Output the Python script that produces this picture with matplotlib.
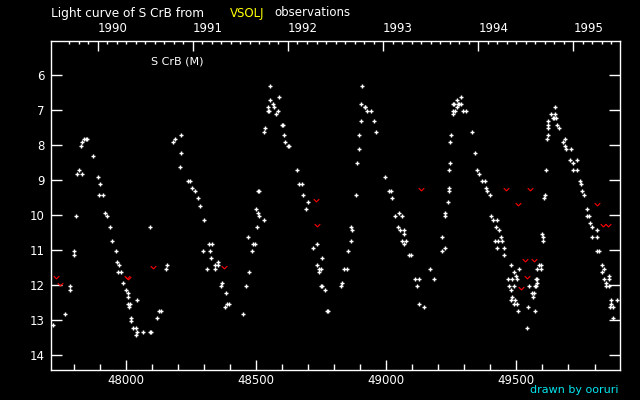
import matplotlib
matplotlib.use("Agg")
import matplotlib.pyplot as plt
from matplotlib.path import Path
import numpy as np

# ---- data: visual estimates (JD-2400000, magnitude) ----
jd_vis = [
    47720, 47766, 47785, 47785, 47800, 47800, 47808, 47812, 47819, 47834, 47827, 47831, 47838, 47846, 47853,
    47876, 47892, 47903, 47899, 47911, 47922, 47930, 47941, 47949, 47964, 47968, 47976, 47972, 47983, 47991,
    48002, 48010, 48010, 48010, 48018, 48014, 48044, 48021, 48021, 48029, 48041, 48044, 48041, 48067, 48094,
    48098, 48122, 48129, 48137, 48095, 48156, 48160, 48183, 48190, 48213, 48213, 48209, 48240, 48248, 48255,
    48267, 48278, 48286, 48301, 48321, 48333, 48298, 48325, 48329, 48313, 48344, 48344, 48355, 48355, 48371,
    48367, 48386, 48390, 48397, 48382, 48451, 48462, 48474, 48485, 48489, 48497, 48470, 48505, 48532, 48513,
    48509, 48502, 48509, 48513, 48532, 48536, 48547, 48551, 48547, 48555, 48555, 48566, 48570, 48578, 48585,
    48589, 48601, 48605, 48608, 48612, 48624, 48627, 48658, 48666, 48677, 48681, 48700, 48692, 48733, 48721,
    48752, 48736, 48744, 48748, 48744, 48748, 48755, 48767, 48771, 48778,
    48832, 48828, 48839, 48851, 48855, 48866, 48866, 48870, 48885, 48889, 48897, 48897, 48904, 48904, 48908,
    48917, 48920, 48928, 48943, 48955, 48962, 48997, 49012, 49020, 49024, 49035, 49050, 49062, 49046, 49054,
    49069, 49069, 49062, 49077, 49069, 49088, 49096, 49170, 49111, 49127, 49185, 49119, 49127, 49146, 49215,
    49227, 49215, 49227, 49227, 49238, 49242, 49242, 49242, 49246, 49246, 49250, 49257, 49257, 49265, 49257,
    49260, 49276, 49280, 49288, 49273, 49273, 49288, 49296, 49307, 49331, 49342, 49350, 49358,
    49369, 49381, 49384, 49388, 49400, 49403, 49411, 49426, 49423, 49434, 49442, 49419, 49430, 49445, 49426,
    49453, 49453, 49480, 49491, 49511, 49499, 49468, 49484, 49503, 49472, 49491, 49480, 49484, 49480, 49495,
    49491, 49503, 49507, 49546, 49542, 49572, 49561, 49569, 49565, 49550, 49572, 49576, 49580, 49576, 49580,
    49580, 49595, 49588, 49595, 49599, 49603, 49603, 49607, 49611, 49614, 49618, 49622, 49622, 49622, 49622,
    49634, 49641, 49645, 49653, 49649, 49649, 49656, 49664, 49679, 49687, 49687, 49691, 49711, 49707, 49718,
    49734, 49718, 49734, 49745, 49749, 49753, 49761, 49772, 49772, 49780, 49783, 49791, 49810, 49791, 49810,
    49810, 49818, 49829, 49837, 49829, 49837, 49856, 49856, 49844, 49844, 49856, 49864, 49886, 49864, 49860,
    49871, 49871,
]
mag_vis = [
    13.14, 12.83, 12.03, 12.14, 11.03, 11.14, 10.03, 8.83, 8.71, 8.83, 8.03, 7.91, 7.83, 7.83, 7.83,
    8.31, 8.91, 9.11, 9.43, 9.43, 9.94, 10.03, 10.34, 10.74, 11.03, 11.34, 11.43, 11.63, 11.63, 11.94,
    12.14, 12.23, 12.34, 12.54, 12.54, 12.63, 12.43, 12.94, 13.03, 13.23, 13.23, 13.34, 13.43, 13.34, 13.34,
    13.34, 12.94, 12.74, 12.74, 10.34, 11.54, 11.43, 7.91, 7.83, 7.71, 8.23, 8.63, 9.03, 9.03, 9.23,
    9.31, 9.51, 9.74, 10.14, 10.83, 10.83, 11.03, 11.03, 11.23, 11.54, 11.54, 11.43, 11.43, 11.34, 11.94,
    12.03, 12.23, 12.54, 12.54, 12.63, 12.83, 12.03, 11.63, 11.03, 10.83, 10.83, 10.63, 10.34, 10.14, 10.03,
    9.94, 9.83, 9.31, 9.31, 7.63, 7.51, 7.03, 7.03, 6.91, 6.71, 6.31, 6.83, 6.91, 7.11, 7.03,
    6.63, 7.43, 7.43, 7.71, 7.91, 8.03, 8.03, 8.71, 9.11, 9.11, 9.43, 9.63, 9.83, 10.83, 10.94,
    11.23, 11.43, 11.54, 11.54, 11.63, 12.03, 12.03, 12.14, 12.74, 12.74,
    11.94, 12.03, 11.54, 11.54, 11.03, 10.74, 10.34, 10.43, 9.43, 8.51, 8.11, 7.71, 7.31, 6.83, 6.31,
    6.91, 6.91, 7.03, 7.03, 7.31, 7.63, 8.91, 9.31, 9.31, 9.51, 10.03, 9.94, 10.03, 10.34, 10.43,
    10.43, 10.54, 10.74, 10.74, 10.83, 11.14, 11.14, 11.54, 11.83, 11.83, 11.83, 12.03, 12.54, 12.63, 10.63,
    10.94, 11.03, 9.94, 10.03, 9.63, 9.23, 9.31, 8.71, 8.51, 7.91, 7.71, 7.11, 7.03, 7.03, 6.83,
    6.83, 6.83, 6.83, 6.83, 6.91, 6.71, 6.63, 7.03, 7.03, 7.63, 8.23, 8.71, 8.83,
    9.03, 9.03, 9.23, 9.31, 9.43, 10.03, 10.14, 10.14, 10.34, 10.43, 10.63, 10.74, 10.74, 10.74, 10.94,
    10.94, 11.14, 11.43, 11.63, 11.54, 11.74, 11.83, 11.83, 11.83, 12.03, 12.03, 12.14, 12.34, 12.43, 12.43,
    12.54, 12.54, 12.74, 12.63, 13.23, 12.74, 12.23, 12.23, 12.34, 12.03, 12.03, 12.03, 11.94, 11.83, 11.83,
    11.54, 11.54, 11.43, 11.43, 10.54, 10.63, 10.74, 9.51, 9.43, 8.71, 7.83, 7.71, 7.51, 7.43, 7.31,
    7.11, 7.23, 7.23, 7.23, 7.11, 6.91, 7.43, 7.51, 7.91, 7.83, 8.03, 8.11, 8.11, 8.43, 8.51,
    8.43, 8.71, 8.71, 9.03, 9.11, 9.31, 9.43, 9.83, 10.03, 10.03, 10.23, 10.34, 10.43, 10.63, 10.63,
    11.03, 11.03, 11.43, 11.54, 11.63, 11.83, 11.74, 11.83, 11.94, 12.03, 12.03, 12.43, 12.43, 12.54, 12.63,
    12.63, 12.94,
]

# ---- data: fainter-than limits (red "v") ----
jd_lim = [47731, 47747, 48005, 48009, 48106, 48378, 48729, 48733, 49135, 49461, 49553, 49508,
          49534, 49569, 49542, 49518, 49810, 49833, 49852]
mag_lim = [11.76, 11.96, 11.76, 11.78, 11.48, 11.49, 9.57, 10.29, 9.25, 9.25, 9.25, 9.69,
           11.29, 11.29, 11.77, 12.09, 9.69, 10.29, 10.29]

years = [1990, 1991, 1992, 1993, 1994, 1995]
x_major = [48000, 48500, 49000, 49500]
mag_ticks = [6, 7, 8, 9, 10, 11, 12, 13, 14]

JD_1990 = 47892.5  # JD-2400000 at 1990.0
DAYS_PER_YEAR = 365.25


def year_to_jd(y):
    return JD_1990 + (y - 1990) * DAYS_PER_YEAR


W, H = 640, 400
fig = plt.figure(figsize=(6.4, 4.0), dpi=100, facecolor="black")
left, right, top, bottom = 50.7, 620.3, 40.7, 370.3
ax = fig.add_axes([left / W, 1 - bottom / H, (right - left) / W, (bottom - top) / H])
ax.set_facecolor("black")

ax.plot(jd_vis, mag_vis, linestyle="none", marker="+", color="white", markersize=3.2, mew=1.0)

vpath = Path([(-1, 0.5), (0, -0.5), (1, 0.5)], [Path.MOVETO, Path.LINETO, Path.LINETO])
ax.plot(jd_lim, mag_lim, linestyle="none", marker=vpath, color="#ff0000", markersize=4.0,
        mew=0.8, fillstyle="none")

ax.set_xlim(47712, 49899)
ax.set_ylim(14.43, 5.01)

for s in ax.spines.values():
    s.set_color("white")
    s.set_linewidth(1.0)

fs = 8.5
ax.set_xticks(x_major)
ax.set_xticklabels([str(v) for v in x_major])
ax.set_xticks(np.arange(47800, 49900, 100), minor=True)
ax.set_yticks(mag_ticks)
ax.set_yticklabels([str(v) for v in mag_ticks])
ax.tick_params(axis="x", which="major", direction="in", length=7.2, width=1, color="white",
               labelcolor="white", labelsize=fs, pad=3, top=False)
ax.tick_params(axis="x", which="minor", direction="in", length=4.1, width=1, color="white", top=False)
ax.tick_params(axis="y", which="major", direction="in", length=7.9, width=1, color="white",
               labelcolor="white", labelsize=fs, pad=4.5, right=True)

ax2 = ax.twiny()
ax2.set_xlim(ax.get_xlim())
ax2.set_xticks([year_to_jd(y) for y in years])
ax2.set_xticklabels([str(y) for y in years], ha="left")
minor_years = [y / 10 for y in range(19897, 19960) if y % 10 != 0]
ax2.set_xticks([year_to_jd(y) for y in minor_years if 47712 <= year_to_jd(y) <= 49899], minor=True)
ax2.tick_params(axis="x", which="major", direction="in", length=7.2, width=1, color="white",
                labelcolor="white", labelsize=fs, pad=4)
ax2.tick_params(axis="x", which="minor", direction="in", length=2.4, width=1, color="white")
for s in ax2.spines.values():
    s.set_visible(False)

ty = 1 - 13 / H
fig.text(50.7 / W, ty, "Light curve of S CrB from", color="white", fontsize=8.7, va="center", ha="left")
fig.text(229.7 / W, ty, "VSOLJ", color="#ffff00", fontsize=8.5, va="center", ha="left")
fig.text(274.5 / W, ty, "observations", color="white", fontsize=8.5, va="center", ha="left")
fig.text(151.4 / W, 1 - 61 / H, "S CrB (M)", color="white", fontsize=8, va="center", ha="left")
fig.text(618 / W, 1 - 390 / H, "drawn by ooruri", color="#00e5ee", fontsize=8, va="center", ha="right")

fig.savefig("out.png", dpi=100, facecolor="black")
